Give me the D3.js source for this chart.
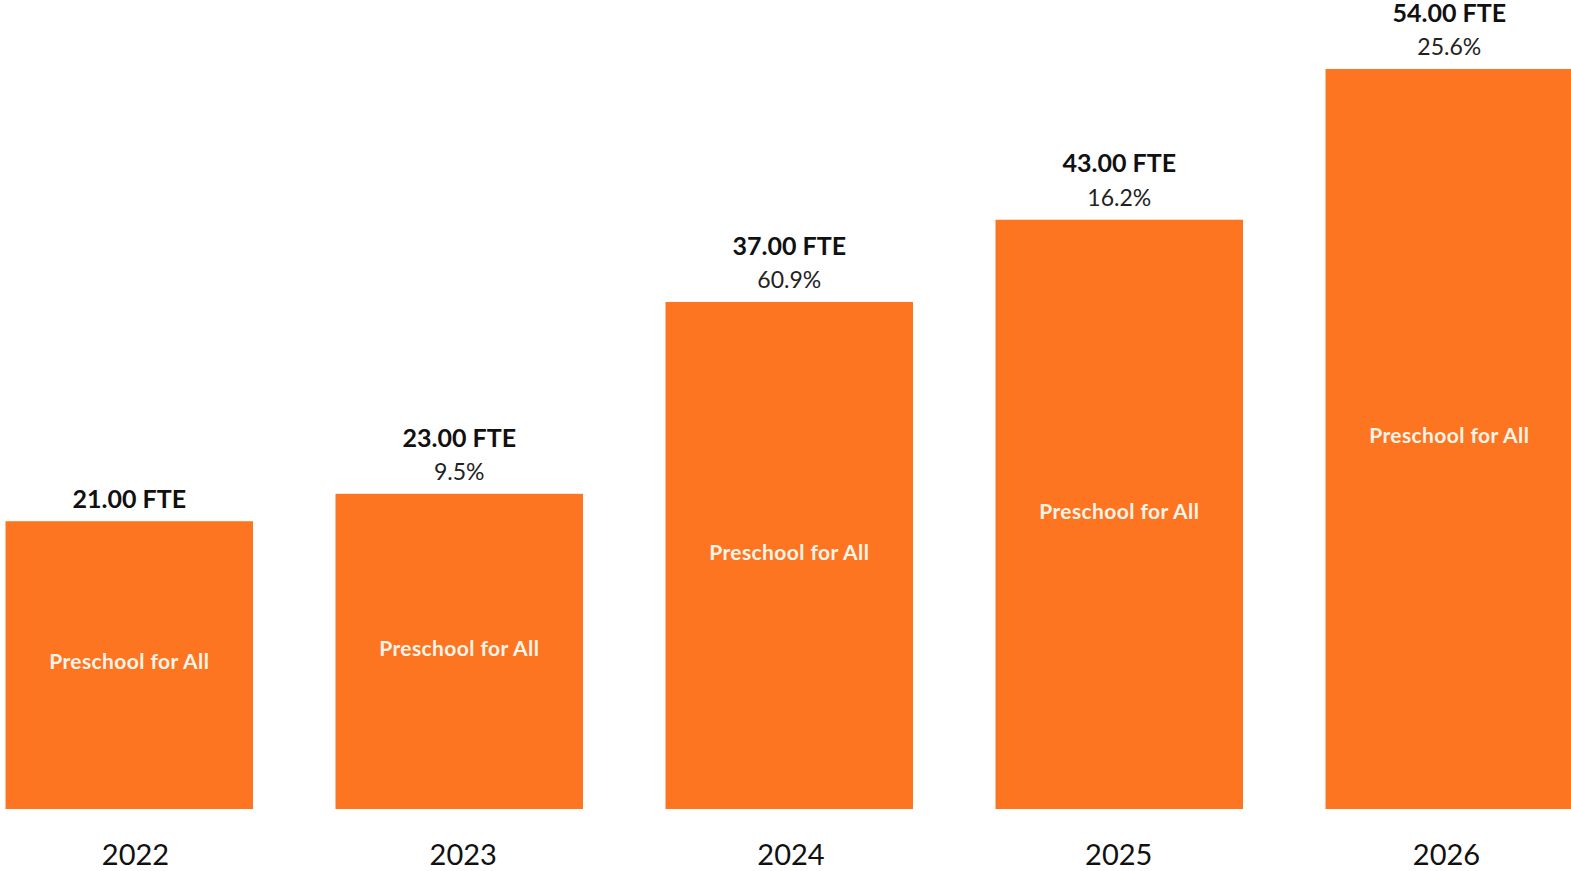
<!DOCTYPE html>
<html>
<head>
<meta charset="utf-8">
<script src="https://cdn.jsdelivr.net/npm/d3@7"></script>
<style>
  body { margin: 0; background: #fff; }
  svg { display: block; }
</style>
</head>
<body>
<div id="vis"></div>
<script>
var width = 1571, height = 871;

// data
var years = ["2022", "2023", "2024", "2025", "2026"];
var fte = [21, 23, 37, 43, 54];
var growth = [null, "9.5%", "60.9%", "16.2%", "25.6%"];
var barLabel = "Preschool for All";

var orange = "#FD7521";
var font = "Lato, 'Open Sans', sans-serif";

var svg = d3.select("#vis")
  .append("svg")
  .attr("width", width)
  .attr("height", height);

var x = d3.scaleBand()
  .domain(years)
  .range([5.5, 1573])
  .paddingInner(0.25)
  .paddingOuter(0);

// year labels sit on a slightly different spacing than the bars
var xLabel = d3.scalePoint()
  .domain(years)
  .range([135, 1446]);

var y = d3.scaleLinear()
  .domain([0, 54])
  .range([809, 69]);

var data = years.map((yr, i) => ({ year: yr, value: fte[i], pct: growth[i] }));

svg.append("g")
  .selectAll("rect")
  .data(data)
  .enter()
  .append("rect")
  .attr("x", d => x(d.year))
  .attr("y", d => y(d.value))
  .attr("width", x.bandwidth())
  .attr("height", d => y(0) - y(d.value))
  .style("fill", orange);

// label inside each bar
svg.append("g")
  .selectAll("text")
  .data(data)
  .enter()
  .append("text")
  .attr("x", d => x(d.year) + x.bandwidth() / 2)
  .attr("y", d => (y(d.value) + y(0)) / 2 - 3)
  .attr("dy", "0.35em")
  .attr("text-anchor", "middle")
  .attr("font-family", font)
  .attr("font-size", "21px")
  .attr("font-weight", "bold")
  .attr("letter-spacing", "0.4px")
  .attr("fill", "#FFF4E8")
  .text(barLabel);

// value + growth labels above bars
var heads = svg.append("g")
  .selectAll("g")
  .data(data)
  .enter()
  .append("g")
  .attr("transform", d => "translate(" + (x(d.year) + x.bandwidth() / 2) + "," + y(d.value) + ")");

heads.append("text")
  .attr("y", d => d.pct ? -56 : -22)
  .attr("dy", "0.35em")
  .attr("text-anchor", "middle")
  .attr("font-family", font)
  .attr("font-size", "25px")
  .attr("font-weight", "bold")
  .attr("fill", "#111")
  .text(d => d.value.toFixed(2) + " FTE");

heads.filter(d => d.pct)
  .append("text")
  .attr("y", -22)
  .attr("dy", "0.35em")
  .attr("text-anchor", "middle")
  .attr("font-family", font)
  .attr("font-size", "23px")
  .attr("fill", "#222")
  .text(d => d.pct);

// year axis
var axis = svg.append("g")
  .attr("transform", "translate(0,855)")
  .call(d3.axisBottom(xLabel).tickSize(0).tickPadding(0));
axis.select(".domain").remove();
axis.selectAll("text")
  .attr("dy", "0.35em")
  .attr("y", 0)
  .attr("font-family", font)
  .attr("font-size", "29px")
  .attr("fill", "#111");
</script>
</body>
</html>
